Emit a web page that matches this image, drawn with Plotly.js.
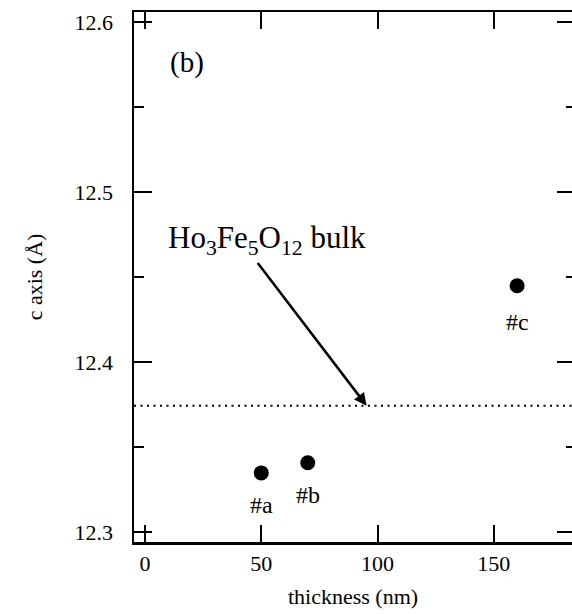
<!DOCTYPE html>
<html>
<head>
<meta charset="utf-8">
<script src="https://cdn.plot.ly/plotly-3.0.1.min.js"></script>
<style>
html,body{margin:0;padding:0;overflow:hidden;background:#fff;width:572px;height:614px;}
#chart{width:572px;height:614px;}
</style>
</head>
<body>
<div id="chart"></div>
<script>
const thickness = [50, 70, 160];
const cAxis = [12.335, 12.341, 12.445];
const sampleLabels = ['#a', '#b', '#c'];
const bulkValue = 12.3745;
const bulkLabel = 'Ho<sub>3</sub>Fe<sub>5</sub>O<sub>12</sub> bulk';
const panelLabel = '(b)';
const xTicks = [0, 50, 100, 150];
const yTicks = [12.3, 12.4, 12.5, 12.6];
const yMinorTicks = [12.35, 12.45, 12.55];

const FONT = "'Liberation Serif', 'Times New Roman', serif";
const xRange = [-4.7, 183.6];
const yRange = [12.2944, 12.6059];

const traces = [
  {
    x: xRange, y: [bulkValue, bulkValue], mode: 'lines',
    line: {color: '#000', width: 2, dash: '2px,4.5px'},
    hoverinfo: 'skip', showlegend: false
  },
  {
    x: thickness, y: cAxis, mode: 'markers',
    marker: {color: '#000', size: 15},
    showlegend: false
  },
  {
    x: [null], y: [null], yaxis: 'y2', mode: 'markers', showlegend: false, hoverinfo: 'skip'
  }
];

const labelShift = [-32, -32, -36];
const annotations = sampleLabels.map((t, i) => ({
  x: thickness[i], y: cAxis[i], xref: 'x', yref: 'y', text: t,
  showarrow: false, yshift: labelShift[i], font: {family: FONT, size: 24, color: '#000'}
}));
annotations.push({
  x: 52.4, y: 12.472, xref: 'x', yref: 'y', text: bulkLabel, showarrow: false,
  font: {family: FONT, size: 31, color: '#000'}
});
annotations.push({
  x: 95.3, y: bulkValue, xref: 'x', yref: 'y', text: '',
  showarrow: true, ax: 48.0, ay: 12.4592, axref: 'x', ayref: 'y',
  arrowhead: 2, arrowsize: 1, arrowwidth: 2.5, arrowcolor: '#000', standoff: 0
});
annotations.push({
  x: 18, y: 12.576, xref: 'x', yref: 'y', text: panelLabel, showarrow: false,
  font: {family: FONT, size: 29, color: '#000'}
});

const layout = {
  width: 572, height: 614,
  margin: {l: 134, r: 0, t: 12, b: 72},
  paper_bgcolor: '#fff', plot_bgcolor: '#fff',
  font: {family: FONT, color: '#000', size: 22},
  xaxis: {
    range: xRange, tickvals: xTicks, ticktext: xTicks.map(String),
    showgrid: false, zeroline: false, showline: true, linecolor: '#000', linewidth: 2.5,
    mirror: 'ticks', ticks: 'inside', ticklen: 17, tickwidth: 2, tickcolor: '#000',
    tickfont: {family: FONT, size: 22, color: '#000'},
    title: {text: 'thickness (nm)', font: {family: FONT, size: 22, color: '#000'}, standoff: 14}
  },
  yaxis: {
    range: yRange, tickvals: yTicks, ticktext: yTicks.map(v => v.toFixed(1)),
    showgrid: false, zeroline: false, showline: true, linecolor: '#000', linewidth: 2.5,
    mirror: false, ticks: 'inside', ticklen: 18, tickwidth: 2, tickcolor: '#000',
    minor: {tickvals: yMinorTicks, ticks: 'inside', ticklen: 10, tickwidth: 2, tickcolor: '#000'},
    tickfont: {family: FONT, size: 22, color: '#000'},
    ticklabelstandoff: 14,
    title: {text: 'c axis (Å)', font: {family: FONT, size: 22, color: '#000'}, standoff: 26}
  },
  yaxis2: {
    overlaying: 'y', side: 'right', matches: 'y', range: yRange,
    tickvals: yTicks, showticklabels: false, showgrid: false, zeroline: false, showline: false,
    ticks: 'inside', ticklen: 15, tickwidth: 2, tickcolor: '#000',
    minor: {tickvals: yMinorTicks, ticks: 'inside', ticklen: 6, tickwidth: 2, tickcolor: '#000'}
  },
  annotations: annotations
};

Plotly.newPlot('chart', traces, layout, {displayModeBar: false, staticPlot: true});
</script>
</body>
</html>
